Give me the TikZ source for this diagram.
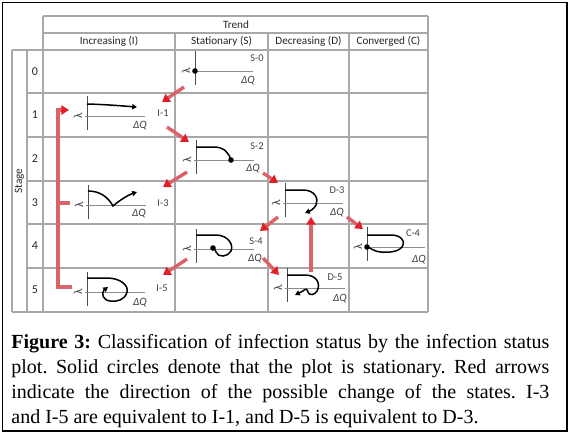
\documentclass[tikz,border=0pt]{standalone}
\usepackage{fontspec}
\setmainfont{Carlito}
\newfontfamily\capfont{Liberation Serif}
\usetikzlibrary{arrows.meta}

\definecolor{gridgray}{RGB}{168,168,168}
\definecolor{headred}{RGB}{226,30,38}
\definecolor{shaftred}{RGB}{218,98,104}

% axes, lambda, Delta Q and the state tag of one small plot
\newcommand{\plotframe}[4]{%
  \draw[yax] (0,-20) -- (0,14);
  \draw[xax] (-2,0) -- (58,0);
  \node[lam] (#1-lam) at (-9,0) {λ};
  \node[dq] (#1-dq) at #4 {ΔQ};
  \node[tag] (#1-tag) at #2 {#3};}

\begin{document}
\begin{tikzpicture}[
  x=0.5pt, y=-0.5pt,
  grid/.style={draw=gridgray, line width=0.6pt},
  hdr/.style={font=\fontsize{5.6}{6}\selectfont, inner sep=0pt, text=black!85},
  num/.style={font=\fontsize{6}{7}\selectfont, inner sep=0pt, text=black!85},
  tag/.style={font=\fontsize{5.2}{6}\selectfont, inner sep=0pt, text=black!75},
  dq/.style={font=\fontsize{5.6}{6}\selectfont\itshape, inner sep=0pt, text=black!75},
  lam/.style={font=\fontsize{6}{6}\selectfont, inner sep=0pt, rotate=90, text=black!75},
  yax/.style={draw=black!70, line width=0.5pt},
  xax/.style={draw=black!45, line width=0.5pt},
  curve/.style={line width=0.75pt},
  trace/.style={curve, -{Triangle[length=2.4pt, width=2.6pt]}},
  move/.style={draw=shaftred, line width=1.7pt, -{Triangle[length=3.8pt, width=4.6pt, color=headred]}},
  bar/.style={draw=shaftred, line width=1.7pt}
]
\useasboundingbox (0,0) rectangle (572,436);
\draw[black, line width=0.7pt] (2.5,2.5) rectangle (567,431);

% table
\draw[grid] (43,16) -- (428,16);
\draw[grid] (43,33) -- (428,33);
\draw[grid] (12,50) -- (428,50);
\foreach \y in {93,137,181,224,268} \draw[grid] (27,\y) -- (428,\y);
\draw[grid] (12,312) -- (428,312);
\draw[grid] (12,50) -- (12,312);
\draw[grid] (27,50) -- (27,312);
\draw[grid] (43,16) -- (43,312);
\foreach \x in {175,268,349} \draw[grid] (\x,33) -- (\x,312);
\draw[grid] (428,16) -- (428,312);

\node[hdr] (trend) at (236,24.5) {Trend};
\node[hdr] (colI) at (109,41.5) {Increasing (I)};
\node[hdr] (colS) at (221.5,41.5) {Stationary (S)};
\node[hdr] (colD) at (308.5,41.5) {Decreasing (D)};
\node[hdr] (colC) at (388.5,41.5) {Converged (C)};
\node[hdr, rotate=90] (stage) at (19.5,181) {Stage};
\foreach \n/\y in {0/71.5,1/115,2/159,3/202.5,4/246,5/290}
  \node[num] (row\n) at (35,\y) {\n};

% plots
\begin{scope}[shift={(195,71)}]
  \coordinate (S0) at (0,0);
  \plotframe{S0}{(62,-13)}{S-0}{(53,10)}
  \fill (0,0) circle (1.4pt);
  \coordinate (S0-out) at (-11,16);
\end{scope}

\begin{scope}[shift={(87,116)}]
  \coordinate (I1) at (0,0);
  \plotframe{I1}{(76,-3)}{I-1}{(53,10)}
  \draw[trace] (0,-12) .. controls (20,-11.5) and (36,-10) .. (50,-9);
  \coordinate (I1-in) at (75,-14);
  \coordinate (I1-out) at (80,11);
  \coordinate (I1-bk) at (-18,-6);
\end{scope}

\begin{scope}[shift={(196,160)}]
  \coordinate (S2) at (0,0);
  \plotframe{S2}{(61,-14)}{S-2}{(57,9)}
  \draw[curve] (0,-13) -- (18,-13) .. controls (28,-13) and (33,-7) .. (35,0);
  \fill (35,0) circle (1.4pt);
  \coordinate (S2-in) at (-7,-18);
  \coordinate (S2-outl) at (-9,12);
  \coordinate (S2-outr) at (67,13);
\end{scope}

\begin{scope}[shift={(88,205)}]
  \coordinate (I3) at (0,0);
  \plotframe{I3}{(75,-2)}{I-3}{(51,9)}
  \draw[trace] (0,-14) .. controls (12,-14) and (20,-8) .. (25,1)
    .. controls (32,-5) and (40,-10) .. (49,-13);
  \coordinate (I3-in) at (75,-18);
  \coordinate (I3-bk) at (-18,-2);
\end{scope}

\begin{scope}[shift={(285,203)}]
  \coordinate (D3) at (0,0);
  \plotframe{D3}{(52,-13)}{D-3}{(52,10)}
  \draw[trace] (0,-13) -- (18,-13) .. controls (30,-13) and (34,-4) .. (31,2)
    .. controls (29,6) and (25,8) .. (20,10);
  \coordinate (D3-in) at (-7,-20);
  \coordinate (D3-outl) at (-7,14);
  \coordinate (D3-outr) at (62,14);
  \coordinate (D3-inb) at (26,14);
\end{scope}

\begin{scope}[shift={(196,249)}]
  \coordinate (S4) at (0,0);
  \plotframe{S4}{(60,-8)}{S-4}{(59,10)}
  \draw[curve] (0,-14) -- (20,-14) .. controls (32,-14) and (38,-4) .. (35,2)
    .. controls (32,8) and (22,9) .. (20,3) .. controls (19,0) and (18,-1) .. (17,-1);
  \fill (17,-1) circle (1.4pt);
  \coordinate (S4-in) at (64,-18);
  \coordinate (S4-outl) at (-9,10);
  \coordinate (S4-outr) at (67,9);
\end{scope}

\begin{scope}[shift={(87,292)}]
  \coordinate (I5) at (0,0);
  \plotframe{I5}{(75,-4)}{I-5}{(53,11)}
  \draw[trace] (0,-14) -- (20,-14) .. controls (34,-14) and (42,-6) .. (40,0)
    .. controls (38,8) and (30,10) .. (23,9) .. controls (16,8) and (14,2) .. (17,-2) -- (21,-5);
  \coordinate (I5-in) at (76,-17);
  \coordinate (I5-bk) at (-15,-5);
\end{scope}

\begin{scope}[shift={(287,288)}]
  \coordinate (D5) at (0,0);
  \plotframe{D5}{(48,-11)}{D-5}{(53,11)}
  \draw[trace] (0,-13) -- (18,-13) .. controls (30,-13) and (34,-4) .. (30,3)
    .. controls (28,7) and (22,8) .. (21,4) .. controls (20,0) and (18,1) .. (16,3) -- (8,7);
  \coordinate (D5-in) at (-8,-13);
  \coordinate (D5-out) at (24,-16);
\end{scope}

\begin{scope}[shift={(367,247)}]
  \coordinate (C4) at (0,0);
  \plotframe{C4}{(46,-14)}{C-4}{(52,13)}
  \draw[curve] (0,-12) -- (24,-12) .. controls (34,-12) and (38,-6) .. (36,-2)
    .. controls (34,4) and (24,6) .. (14,5) .. controls (8,5) and (4,1) .. (0,0);
  \fill (0,0) circle (1.4pt);
  \coordinate (C4-in) at (-4,-18);
\end{scope}

% state changes
\draw[move] (S0-out) -- (I1-in);
\draw[move] (I1-out) -- (S2-in);
\draw[move] (S2-outl) -- (I3-in);
\draw[move] (S2-outr) -- (D3-in);
\draw[move] (D3-outl) -- (S4-in);
\draw[move] (S4-outl) -- (I5-in);
\draw[move] (S4-outr) -- (D5-in);
\draw[move] (D5-out) -- (D3-inb);
\draw[move] (D3-outr) -- (C4-in);

% I-3, I-5 back to I-1
\coordinate (spine) at (58,110);
\draw[move] (I5-bk) -| (spine) -- (I1-bk);
\draw[bar] (I3-bk) -- (I3-bk -| spine);

% caption
\node[anchor=north west, text width=269pt, align=justify, inner sep=0pt,
      font=\capfont\fontsize{10}{12.5}\selectfont\frenchspacing] (caption) at (11,334)
  {\textbf{Figure 3:} Classification of infection status by the infection status\linebreak
   plot. Solid circles denote that the plot is stationary. Red arrows\linebreak
   indicate the direction of the possible change of the states. I-3\linebreak
   and I-5 are equivalent to I-1, and D-5 is equivalent to D-3.};
\end{tikzpicture}
\end{document}
